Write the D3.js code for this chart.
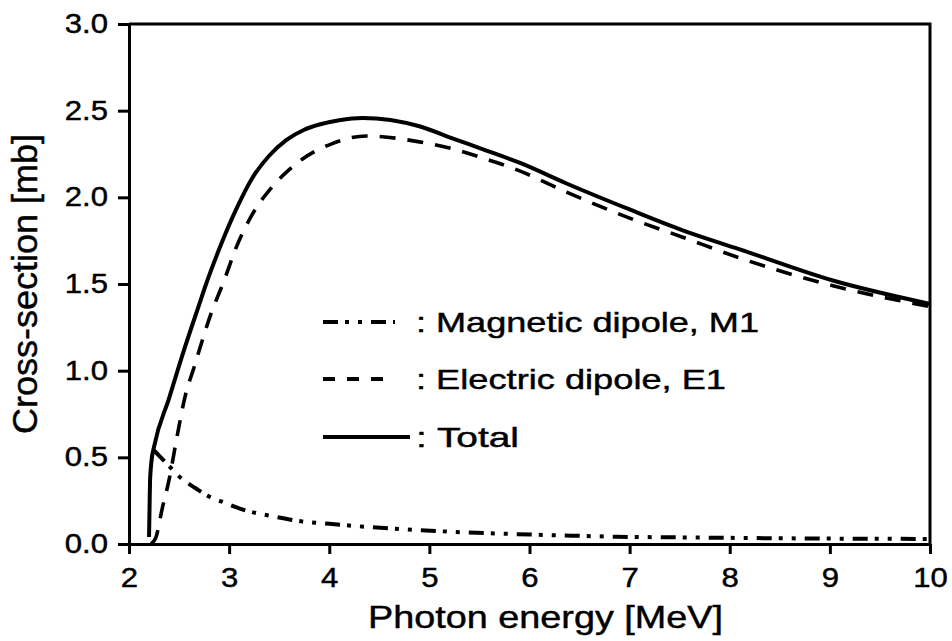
<!DOCTYPE html>
<html>
<head>
<meta charset="utf-8">
<script src="https://cdn.jsdelivr.net/npm/d3@7/dist/d3.min.js"></script>
<style>
  body { margin: 0; background: #fff; }
  svg { display: block; font-family: "Liberation Sans", Arial, sans-serif; }
  text { stroke: #000; stroke-width: 0.45px; }
</style>
</head>
<body>
<svg id="chart" width="952" height="641"></svg>
<script>
// Data (photon energy in MeV, cross-section in mb)
const totalEnergy = [2.20, 2.205, 2.21, 2.225, 2.25, 2.40, 2.55, 2.70, 2.77, 2.90, 3.07, 3.23, 3.40, 3.57, 3.75, 3.90, 4.10, 4.33, 4.90, 5.23, 5.57, 5.90, 6.37, 7.00, 7.53, 8.10, 9.03, 10.0];
const totalSigma  = [0.04, 0.20, 0.36, 0.48, 0.56, 0.84, 1.12, 1.38, 1.50, 1.70, 1.93, 2.11, 2.24, 2.33, 2.39, 2.42, 2.445, 2.458, 2.41, 2.34, 2.27, 2.20, 2.08, 1.93, 1.81, 1.70, 1.52, 1.385];

const e1Energy = [2.22, 2.27, 2.33, 2.40, 2.48, 2.56, 2.65, 2.82, 2.95, 3.07, 3.23, 3.43, 3.60, 3.73, 4.03, 4.37, 4.90, 5.23, 5.57, 5.87, 6.37, 7.00, 7.53, 8.10, 9.03, 10.0];
const e1Sigma  = [0.00, 0.04, 0.20, 0.37, 0.62, 0.85, 1.02, 1.33, 1.52, 1.71, 1.90, 2.06, 2.16, 2.22, 2.31, 2.354, 2.32, 2.28, 2.22, 2.16, 2.03, 1.88, 1.77, 1.65, 1.49, 1.37];

const m1Energy = [2.25, 2.30, 2.40, 2.50, 2.67, 2.78, 2.93, 3.13, 3.47, 3.73, 4.00, 4.30, 4.70, 5.20, 5.70, 6.30, 6.87, 7.53, 8.50, 10.0];
const m1Sigma  = [0.54, 0.51, 0.45, 0.39, 0.32, 0.28, 0.244, 0.20, 0.156, 0.13, 0.117, 0.102, 0.087, 0.071, 0.06, 0.05, 0.042, 0.038, 0.033, 0.029];

const xTicks = [2, 3, 4, 5, 6, 7, 8, 9, 10];
const yTicks = [0, 0.5, 1.0, 1.5, 2.0, 2.5, 3.0];

const legendLabels = [': Magnetic dipole, M1', ': Electric dipole, E1', ': Total'];

const svg = d3.select('#chart');

const x = d3.scaleLinear().domain([2, 10]).range([129, 930]);
const y = d3.scaleLinear().domain([0, 3]).range([544, 24]);

// widen text horizontally like the scanned figure
const stretch = (sel, k) => sel.each(function () {
  const w = this.getComputedTextLength();
  d3.select(this).attr('textLength', w * k).attr('lengthAdjust', 'spacingAndGlyphs');
});

// frame (top and right)
svg.append('path')
  .attr('d', `M${x(2)},${y(3)}H${x(10)}V${y(0)}`)
  .attr('fill', 'none').attr('stroke', '#000').attr('stroke-width', 3);

// axes
const xAxis = svg.append('g')
  .attr('transform', `translate(0,${y(0)})`)
  .call(d3.axisBottom(x).tickValues(xTicks).tickFormat(d3.format('d')).tickSize(10).tickPadding(14).tickSizeOuter(0));

const yAxis = svg.append('g')
  .attr('transform', `translate(${x(2)},0)`)
  .call(d3.axisLeft(y).tickValues(yTicks).tickFormat(d3.format('.1f')).tickSize(11).tickPadding(10).tickSizeOuter(0));

[xAxis, yAxis].forEach(g => {
  g.select('.domain').attr('stroke-width', 3);
  g.selectAll('.tick line').attr('stroke-width', 3);
  g.selectAll('.tick text').attr('font-size', 27).attr('fill', '#000')
    .attr('font-family', '"Liberation Sans", Arial, sans-serif')
    .call(stretch, 1.15);
});

// axis titles
svg.append('text')
  .attr('x', 368).attr('y', 628)
  .attr('font-size', 32)
  .text('Photon energy [MeV]')
  .call(sel => sel.attr('textLength', 355).attr('lengthAdjust', 'spacingAndGlyphs'));

svg.append('text')
  .attr('transform', `translate(37,${(y(0) + y(3)) / 2}) rotate(-90)`)
  .attr('text-anchor', 'middle')
  .attr('font-size', 35)
  .text('Cross-section [mb]')
  .call(sel => sel.attr('textLength', 300).attr('lengthAdjust', 'spacingAndGlyphs'));

// curves
const line = d3.line().x(d => x(d[0])).y(d => y(d[1])).curve(d3.curveMonotoneX);

const series = [
  { e: m1Energy, s: m1Sigma, dash: '15,7,4,9,4,9', width: 4 },
  { e: e1Energy, s: e1Sigma, dash: '16,12', width: 3.6 },
  { e: totalEnergy, s: totalSigma, dash: null, width: 4 }
];

series.forEach(sr => {
  svg.append('path')
    .datum(d3.zip(sr.e, sr.s))
    .attr('d', line)
    .attr('fill', 'none')
    .attr('stroke', '#000')
    .attr('stroke-width', sr.width)
    .attr('stroke-dasharray', sr.dash);
});

// legend
const legendY = [322, 379, 437];
const legendDash = ['15,7,4,9,4,9', '12,12', null];
const legendEnd = [395, 383, 410];
const legendTextLen = [343, 310, 103];

legendLabels.forEach((label, i) => {
  svg.append('line')
    .attr('x1', 323).attr('x2', legendEnd[i])
    .attr('y1', legendY[i]).attr('y2', legendY[i])
    .attr('stroke', '#000').attr('stroke-width', 4)
    .attr('stroke-dasharray', legendDash[i]);
  svg.append('text')
    .attr('x', 416).attr('y', legendY[i] + 10)
    .attr('font-size', 28)
    .text(label)
    .attr('textLength', legendTextLen[i]).attr('lengthAdjust', 'spacingAndGlyphs');
});
</script>
</body>
</html>
